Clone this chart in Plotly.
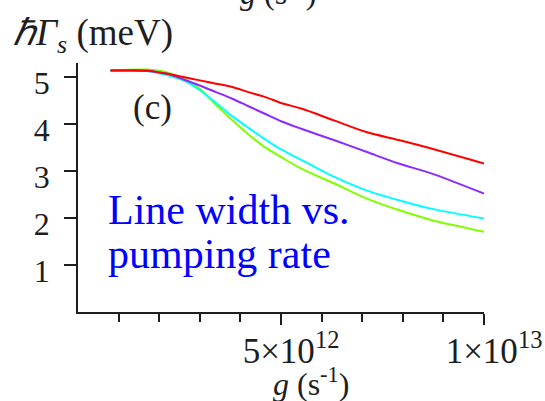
import plotly.graph_objects as go

# Pumping rate g (units of 1e12 s^-1)
g_1e12 = [0.8, 1.7, 2.2, 2.6, 3.0, 3.4, 3.8, 4.2, 4.6, 5.0, 5.5, 6.3, 7.1, 7.9, 8.7, 10.0]

# Line width hbar*Gamma_s (meV) for the four curves
width_red = [5.14, 5.14, 5.07, 5.00, 4.93, 4.86, 4.79, 4.68, 4.58, 4.45, 4.33, 4.08, 3.83, 3.66, 3.48, 3.16]
width_purple = [5.14, 5.13, 5.07, 4.95, 4.82, 4.68, 4.54, 4.38, 4.22, 4.06, 3.90, 3.66, 3.41, 3.16, 2.95, 2.52]
width_cyan = [5.14, 5.13, 5.04, 4.93, 4.72, 4.45, 4.17, 3.92, 3.68, 3.46, 3.24, 2.88, 2.59, 2.38, 2.20, 1.99]
width_green = [5.14, 5.16, 5.10, 4.97, 4.75, 4.41, 4.08, 3.78, 3.51, 3.30, 3.05, 2.74, 2.42, 2.17, 1.96, 1.71]

y_ticks = [1, 2, 3, 4, 5]
x_major = [5e12, 1e13]
x_major_text = ["5×10<sup>12</sup>", "1×10<sup>13</sup>"]
x_minor = [1e12, 2e12, 3e12, 4e12, 6e12, 7e12, 8e12, 9e12]

SERIF = "Liberation Serif"
INK = "#1e1e1e"

g = [v * 1e12 for v in g_1e12]
series = [
    (width_green, "#7FFF00"),
    (width_cyan, "#00FFFF"),
    (width_purple, "#8A2BFF"),
    (width_red, "#FF0000"),
]

fig = go.Figure()
for vals, color in series:
    fig.add_trace(go.Scatter(x=g, y=vals, mode="lines",
                             line=dict(color=color, width=2, shape="spline", smoothing=0.8),
                             showlegend=False, hoverinfo="skip"))

x_range = [0, 1e13]
y_range = [0, 5.3]

fig.update_layout(
    width=545, height=401,
    margin=dict(l=78, r=61, t=63, b=89),
    paper_bgcolor="white", plot_bgcolor="white",
    font=dict(family=SERIF, color=INK),
    xaxis=dict(
        range=x_range, showgrid=False, zeroline=False, automargin=False,
        showline=True, linecolor=INK, linewidth=1.5,
        tickmode="array", tickvals=x_major, ticktext=x_major_text,
        ticks="outside", ticklen=11, tickwidth=1.5, tickcolor=INK,
        tickfont=dict(family=SERIF, size=35, color=INK),
        ticklabelshift=10, ticklabelstandoff=-4,
        minor=dict(tickmode="array", tickvals=x_minor, ticks="outside",
                   ticklen=8, tickwidth=1.5, tickcolor=INK),
    ),
    xaxis2=dict(
        range=x_range, overlaying="x", anchor="y", side="bottom", automargin=False,
        showgrid=False, zeroline=False, showline=False, showticklabels=False,
        tickmode="array", tickvals=x_major,
        ticks="inside", ticklen=9, tickwidth=1.5, tickcolor=INK,
        minor=dict(tickmode="array", tickvals=x_minor, ticks="inside",
                   ticklen=6, tickwidth=1.5, tickcolor=INK),
    ),
    yaxis=dict(
        range=y_range, showgrid=False, zeroline=False, automargin=False,
        showline=True, linecolor=INK, linewidth=1.5,
        tickmode="array", tickvals=y_ticks,
        ticks="outside", ticklen=12, tickwidth=1.5, tickcolor=INK,
        tickfont=dict(family=SERIF, size=32, color=INK),
        ticklabelshift=6, ticklabelstandoff=8,
    ),
    yaxis2=dict(
        range=y_range, overlaying="y", anchor="x", side="left", automargin=False,
        showgrid=False, zeroline=False, showline=False, showticklabels=False,
        tickmode="array", tickvals=y_ticks,
        ticks="inside", ticklen=10, tickwidth=1.5, tickcolor=INK,
    ),
)

annotations = [
    # panel tag
    dict(text="(c)", x=0.184, y=0.822, xanchor="center", yanchor="middle",
         font=dict(size=35, color=INK)),
    # blue caption, two lines
    dict(text="Line width vs.", x=0.07, y=0.41, xanchor="left", yanchor="middle",
         font=dict(size=42, color="#0000FF")),
    dict(text="pumping rate", x=0.07, y=0.232, xanchor="left", yanchor="middle",
         font=dict(size=42, color="#0000FF")),
    # axis titles
    dict(text="<i>ℏΓ<sub>s</sub></i> (meV)", x=-0.165, y=1.111,
         xanchor="left", yanchor="middle", font=dict(size=37, color=INK)),
    dict(text="<i>g</i> (s<sup>-1</sup>)", x=0.574, y=-0.282,
         xanchor="center", yanchor="middle", font=dict(size=32, color=INK)),
    # x title of the panel above, cut by the top edge
    dict(text="<i>g</i> (s<sup>-1</sup>)", x=0.493, y=1.2875,
         xanchor="center", yanchor="middle", font=dict(size=32, color=INK)),
]
for a in annotations:
    a.update(xref="paper", yref="paper", showarrow=False)
fig.update_layout(annotations=annotations)

fig.write_html("out.html")
